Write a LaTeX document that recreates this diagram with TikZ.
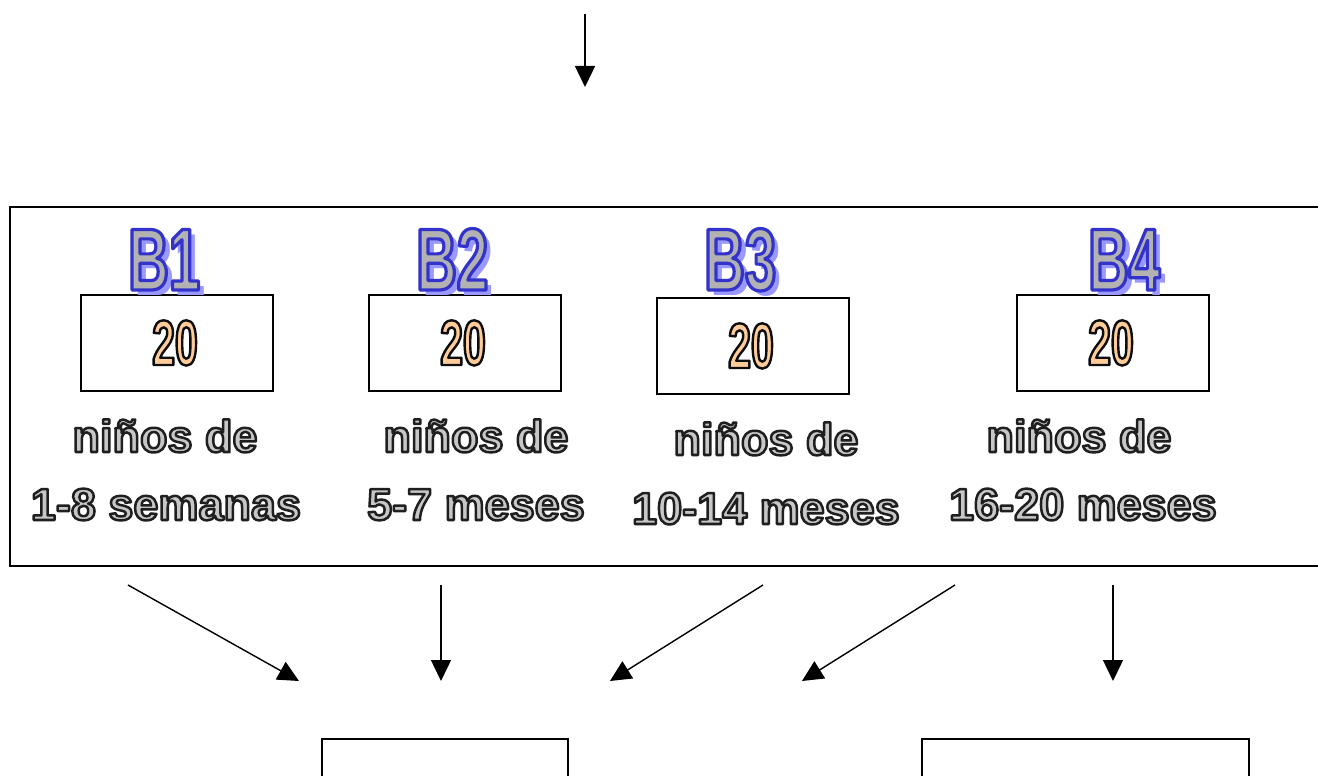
\documentclass[tikz,border=0pt]{standalone}
\usepackage{fontspec}
\setmainfont{Liberation Sans}
\newfontfamily\condfont[FakeStretch=0.64]{Liberation Sans}
\usetikzlibrary{arrows.meta}
% outlined ("WordArt") text: #1 fill rgb, #2 stroke rgb, #3 stroke width, #4 text
\newcommand\wa[4]{\special{pdf:code #1 rg #2 RG #3 w 1 j 2 Tr}#4\special{pdf:code 0 Tr 0 g 0 G 0.4 w}}
% plain filled text in raw colour
\newcommand\wf[2]{\special{pdf:code #1 rg 0 Tr}#2\special{pdf:code 0 g}}
\newcommand\gtxt[1]{\wa{0.78 0.78 0.78}{0.12 0.12 0.12}{2.5}{#1}}
\newcommand\btxt[1]{\wa{0.70 0.70 0.70}{0.2 0.2 0.8}{3.2}{#1}}
\newcommand\bshadow[1]{\wf{0.6 0.6 1}{#1}}
\newcommand\ntxt[1]{\wa{1 0.8 0.6}{0.05 0.05 0.05}{2.4}{#1}}
% B label with its blue shadow, as one text
\newcommand\blabel[1]{\rlap{\hspace{6pt}\raisebox{-5pt}[0pt][0pt]{\bshadow{#1}}}\btxt{#1}}
\begin{document}
\begin{tikzpicture}[x=1pt,y=-1pt,
  box/.style={draw, line width=1.6pt, inner sep=0pt, minimum width=192pt, minimum height=96pt},
  frame/.style={draw, line width=1.6pt, inner sep=0pt, anchor=north west},
  arr/.style={line width=1.4pt, -{Triangle[length=21pt,width=20pt]}},
  lbl/.style={inner sep=0pt, anchor=base, font=\fontsize{45}{54}\selectfont\bfseries},
  big/.style={inner sep=0pt, anchor=base west, font=\condfont\fontsize{88}{96}\selectfont\bfseries},
  num/.style={inner sep=0pt, anchor=base, font=\condfont\fontsize{64}{70}\selectfont\bfseries}]
\useasboundingbox (0,0) rectangle (1318,776);
\clip (0,0) rectangle (1318,776);
\fill[white] (0,0) rectangle (1318,776);

% top arrow
\coordinate (t0) at (585,14);
\coordinate (t1) at (585,87);
\draw[arr] (t0) -- (t1);

% big frame
\node[frame, minimum width=1330pt, minimum height=359pt] (frame) at (9,206) {};

% boxes
\node[box] (box1) at (177,343) {};
\node[box] (box2) at (465,343) {};
\node[box] (box3) at (753,346) {};
\node[box] (box4) at (1113,343) {};

% B labels
\node[big] (b1) at (128,290) {\blabel{B1}};
\node[big] (b2) at (416,290) {\blabel{B2}};
\node[big] (b3) at (704,290) {\blabel{B3}};
\node[big] (b4) at (1088,290) {\blabel{B4}};

% numbers
\node[num] (n1) at (175,365) {\ntxt{20}};
\node[num] (n2) at (463,365) {\ntxt{20}};
\node[num] (n3) at (751,368) {\ntxt{20}};
\node[num] (n4) at (1111,365) {\ntxt{20}};

% descriptions
\node[lbl] (d1a) at (165,452) {\gtxt{niños de}};
\node[lbl] (d1b) at (166,520) {\gtxt{1-8 semanas}};
\node[lbl] (d2a) at (476,452) {\gtxt{niños de}};
\node[lbl] (d2b) at (476,520) {\gtxt{5-7 meses}};
\node[lbl] (d3a) at (766,455) {\gtxt{niños de}};
\node[lbl] (d3b) at (766,524) {\gtxt{10-14 meses}};
\node[lbl] (d4a) at (1079,452) {\gtxt{niños de}};
\node[lbl] (d4b) at (1083,520) {\gtxt{16-20 meses}};

% bottom arrows
\coordinate (s1) at (128,585);  \coordinate (e1) at (299,681);
\coordinate (s2) at (441,585);  \coordinate (e2) at (441,681);
\coordinate (s3) at (763,585);  \coordinate (e3) at (610,681);
\coordinate (s4) at (955,585);  \coordinate (e4) at (802,681);
\coordinate (s5) at (1113,585); \coordinate (e5) at (1113,681);
\draw[arr] (s1) -- (e1);
\draw[arr] (s2) -- (e2);
\draw[arr] (s3) -- (e3);
\draw[arr] (s4) -- (e4);
\draw[arr] (s5) -- (e5);

% bottom boxes (cut by the lower edge)
\node[frame, minimum width=246pt, minimum height=80pt] (out1) at (321,738) {};
\node[frame, minimum width=327pt, minimum height=80pt] (out2) at (921,738) {};
\end{tikzpicture}
\end{document}
